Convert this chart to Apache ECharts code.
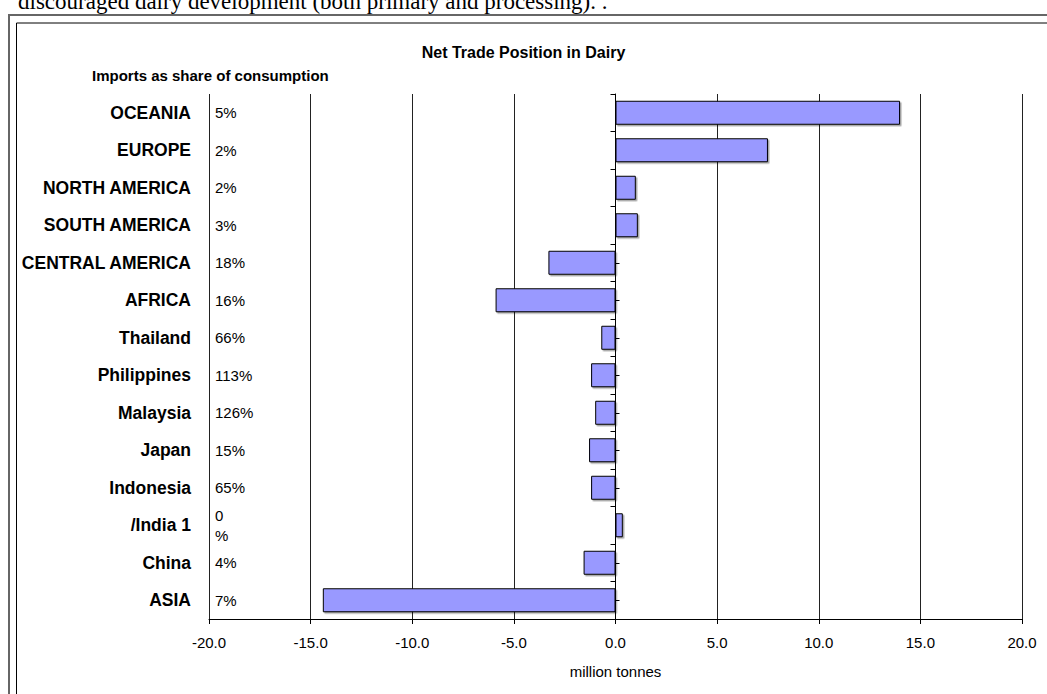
<!DOCTYPE html>
<html>
<head>
<meta charset="utf-8">
<script src="https://cdn.jsdelivr.net/npm/echarts@6/dist/echarts.min.js"></script>
<style>
  html, body { margin: 0; padding: 0; background: #fff; }
  #chart { width: 1047px; height: 694px; }
</style>
</head>
<body>
<div id="chart"></div>
<script>
// regions / countries, top to bottom as in the picture
const categories = [
  "OCEANIA", "EUROPE", "NORTH AMERICA", "SOUTH AMERICA", "CENTRAL AMERICA",
  "AFRICA", "Thailand", "Philippines", "Malaysia", "Japan", "Indonesia",
  "/India 1", "China", "ASIA"
];
// net trade position, million tonnes
const netTrade = [14.0, 7.5, 1.0, 1.1, -3.3, -5.9, -0.7, -1.2, -1.0, -1.3, -1.2, 0.36, -1.57, -14.4];
// imports as share of consumption
const importShare = ["5%", "2%", "2%", "3%", "18%", "16%", "66%", "113%", "126%", "15%", "65%", "0\n%", "4%", "7%"];

const FONT = "'Liberation Sans', Arial, sans-serif";
const GRID_LEFT = 209, GRID_RIGHT = 25, X_MIN = -20, X_MAX = 20;
// distance of the zero line from the left edge of the plot
const plotWidth = 1047 - GRID_LEFT - GRID_RIGHT;
const zeroOffset = plotWidth * (0 - X_MIN) / (X_MAX - X_MIN);

const chart = echarts.init(document.getElementById("chart"), null, { renderer: "svg" });

chart.setOption({
  animation: false,
  backgroundColor: "#fff",
  title: [
    {
      text: "Net Trade Position in Dairy",
      left: "center",
      top: 39,
      textStyle: { fontFamily: FONT, fontSize: 16, fontWeight: "bold", color: "#000" }
    },
    {
      text: "Imports as share of consumption",
      left: 87,
      top: 63,
      textStyle: { fontFamily: FONT, fontSize: 15, fontWeight: "bold", color: "#000" }
    }
  ],
  graphic: [
    {
      type: "text",
      left: 18,
      top: -10,
      style: {
        text: "discouraged dairy development (both primary and processing). .",
        font: "23px 'Liberation Serif', 'Times New Roman', serif",
        fill: "#000"
      }
    },
    {
      type: "rect",
      shape: { x: 9, y: 15, width: 1200, height: 900 },
      style: { fill: "none", stroke: "#666", lineWidth: 2 }
    },
    {
      type: "rect",
      shape: { x: 16.5, y: 23, width: 1200, height: 900 },
      style: { fill: "none", stroke: "#000", lineWidth: 1 }
    }
  ],
  grid: { left: GRID_LEFT, right: GRID_RIGHT, top: 94, bottom: 75, containLabel: false },
  xAxis: {
    type: "value",
    min: X_MIN,
    max: X_MAX,
    interval: 5,
    name: "million tonnes",
    nameLocation: "middle",
    nameGap: 45,
    nameTextStyle: { fontFamily: FONT, fontSize: 15, color: "#000" },
    axisLine: { show: true, onZero: false, lineStyle: { color: "#000", width: 1 } },
    axisTick: { show: true, length: 5, lineStyle: { color: "#000" } },
    axisLabel: {
      fontFamily: FONT, fontSize: 15, color: "#000", margin: 16,
      formatter: (v) => v.toFixed(1)
    },
    splitLine: { show: true, lineStyle: { color: "#222", width: 1 } }
  },
  yAxis: [
    {
      type: "category",
      data: categories,
      inverse: true,
      position: "left",
      axisLine: { show: false, onZero: false },
      axisTick: { show: false },
      axisLabel: {
        fontFamily: FONT, fontSize: 17.5, fontWeight: "bold", color: "#000", margin: 18
      }
    },
    {
      type: "category",
      data: categories,
      inverse: true,
      position: "left",
      axisLine: { show: false, onZero: false },
      axisTick: { show: false },
      axisLabel: {
        inside: true,
        margin: 6,
        fontFamily: FONT, fontSize: 15, color: "#000", lineHeight: 20,
        formatter: (v, i) => importShare[i]
      }
    },
    {
      // zero line with ticks between categories
      type: "category",
      data: categories,
      inverse: true,
      position: "left",
      offset: -zeroOffset,
      axisLine: { show: true, onZero: false, lineStyle: { color: "#000", width: 1 } },
      axisTick: { show: true, length: 5, lineStyle: { color: "#000" } },
      axisLabel: { show: false }
    },
    {
      // small ticks at the middle of each bar
      type: "category",
      data: categories,
      inverse: true,
      position: "left",
      offset: -zeroOffset,
      axisLine: { show: false, onZero: false },
      axisTick: { show: true, inside: true, alignWithLabel: true, length: 4, lineStyle: { color: "#000" } },
      axisLabel: { show: false }
    }
  ],
  series: [
    {
      type: "bar",
      xAxisIndex: 0,
      yAxisIndex: 0,
      data: netTrade,
      barCategoryGap: "36%",
      itemStyle: {
        color: "#9999ff",
        borderColor: "#000",
        borderWidth: 1,
        shadowColor: "rgba(0,0,0,0.35)",
        shadowOffsetX: 1.5,
        shadowOffsetY: 1.5,
        shadowBlur: 0
      }
    }
  ]
});
</script>
</body>
</html>
